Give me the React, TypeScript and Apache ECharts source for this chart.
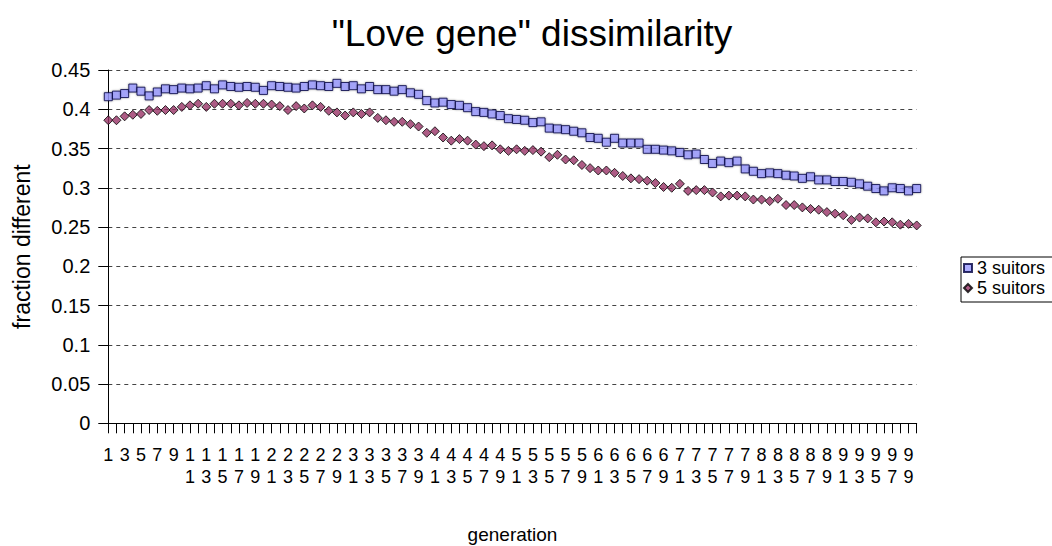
import React, { useEffect, useRef } from "react";
import * as echarts from "echarts";

const categories: string[] = Array.from({ length: 100 }, (_, i) => String(i + 1));

const suitors3: number[] = [
  0.416, 0.418, 0.420, 0.427, 0.423, 0.417, 0.422, 0.426, 0.425, 0.427,
  0.426, 0.427, 0.430, 0.426, 0.431, 0.429, 0.428, 0.429, 0.428, 0.424,
  0.430, 0.429, 0.428, 0.427, 0.429, 0.431, 0.430, 0.429, 0.433, 0.429,
  0.430, 0.426, 0.429, 0.425, 0.425, 0.423, 0.425, 0.421, 0.419, 0.411,
  0.408, 0.409, 0.406, 0.405, 0.402, 0.397, 0.396, 0.394, 0.392, 0.388,
  0.387, 0.386, 0.383, 0.384, 0.376, 0.375, 0.374, 0.372, 0.370, 0.364,
  0.363, 0.358, 0.363, 0.357, 0.357, 0.357, 0.349, 0.349, 0.348, 0.347,
  0.345, 0.342, 0.343, 0.336, 0.331, 0.334, 0.332, 0.334, 0.324, 0.321,
  0.318, 0.319, 0.318, 0.316, 0.315, 0.312, 0.314, 0.310, 0.310, 0.308,
  0.308, 0.307, 0.305, 0.302, 0.299, 0.296, 0.300, 0.299, 0.296, 0.299,
];

const suitors5: number[] = [
  0.386, 0.386, 0.391, 0.393, 0.394, 0.399, 0.398, 0.399, 0.399, 0.403,
  0.405, 0.407, 0.403, 0.407, 0.407, 0.407, 0.405, 0.408, 0.407, 0.407,
  0.406, 0.404, 0.399, 0.404, 0.401, 0.405, 0.403, 0.398, 0.396, 0.392,
  0.396, 0.394, 0.396, 0.389, 0.386, 0.384, 0.384, 0.381, 0.378, 0.370,
  0.372, 0.364, 0.360, 0.362, 0.360, 0.355, 0.353, 0.354, 0.349, 0.347,
  0.349, 0.347, 0.348, 0.346, 0.339, 0.342, 0.336, 0.335, 0.329, 0.325,
  0.322, 0.322, 0.319, 0.315, 0.312, 0.311, 0.309, 0.306, 0.301, 0.300,
  0.305, 0.296, 0.297, 0.297, 0.294, 0.289, 0.290, 0.290, 0.289, 0.285,
  0.285, 0.283, 0.286, 0.278, 0.278, 0.275, 0.273, 0.272, 0.269, 0.267,
  0.265, 0.259, 0.262, 0.261, 0.256, 0.257, 0.256, 0.253, 0.254, 0.252,
];

const seriesNames: string[] = ["3 suitors", "5 suitors"];

const FONT = "'Liberation Sans', Arial, sans-serif";

export default function App() {
  const ref = useRef<HTMLDivElement>(null);

  useEffect(() => {
    if (!ref.current) return;
    const chart = echarts.init(ref.current, undefined, { renderer: "svg" });
    chart.setOption({
      animation: false,
      backgroundColor: "#ffffff",
      textStyle: { fontFamily: FONT },
      title: {
        text: '"Love gene" dissimilarity',
        left: 527,
        textAlign: "center",
        top: 10,
        textStyle: { fontFamily: FONT, fontSize: 37, fontWeight: "normal", color: "#000" },
      },
      legend: {
        orient: "vertical",
        left: 961,
        top: 257,
        padding: [2, 9, 5, 2],
        itemGap: 2,
        itemWidth: 8,
        itemHeight: 8,
        borderColor: "#000",
        borderWidth: 1,
        borderRadius: 0,
        textStyle: { fontFamily: FONT, fontSize: 18, color: "#000" },
        data: [
          { name: seriesNames[0], icon: "rect" },
          { name: seriesNames[1], icon: "diamond" },
        ],
      },
      grid: {
        left: 108.3,
        top: 70,
        width: 808.4,
        height: 353.3,
        outerBoundsMode: "none",
        containLabel: false,
      },
      xAxis: {
        type: "category",
        data: categories,
        boundaryGap: false,
        name: "generation",
        nameLocation: "middle",
        nameGap: 102,
        nameTextStyle: { fontFamily: FONT, fontSize: 19, color: "#000" },
        axisLine: { lineStyle: { color: "#000", width: 1 } },
        axisTick: { interval: 0, length: 10, lineStyle: { color: "#000" } },
        axisLabel: {
          interval: 1,
          margin: 21,
          fontSize: 18,
          lineHeight: 22,
          color: "#000",
          fontFamily: FONT,
          formatter: (v: string) => v.split("").join("\n"),
        },
        splitLine: { show: false },
      },
      yAxis: {
        type: "value",
        min: 0,
        max: 0.45,
        interval: 0.05,
        name: "fraction different",
        nameLocation: "middle",
        nameGap: 75,
        nameTextStyle: { fontFamily: FONT, fontSize: 23, color: "#000" },
        axisLine: { show: true, lineStyle: { color: "#000", width: 1 } },
        axisTick: { show: true, length: 10, lineStyle: { color: "#000" } },
        axisLabel: { margin: 18, fontSize: 20, color: "#000", fontFamily: FONT },
        splitLine: { show: true, lineStyle: { color: "#444", type: [4, 4], width: 1 } },
      },
      series: [
        {
          name: seriesNames[0],
          type: "scatter",
          data: suitors3,
          symbol: "rect",
          symbolSize: 8,
          itemStyle: {
            color: "#9999FF",
            borderColor: "#000040",
            borderWidth: 1,
            shadowColor: "rgba(0,0,0,0.4)",
            shadowBlur: 2,
          },
        },
        {
          name: seriesNames[1],
          type: "scatter",
          data: suitors5,
          symbol: "diamond",
          symbolSize: 9,
          itemStyle: {
            color: "#993366",
            borderColor: "#000",
            borderWidth: 1,
          },
        },
      ],
    });
    return () => chart.dispose();
  }, []);

  return (
    <div
      ref={ref}
      style={{ position: "absolute", left: 0, top: 0, width: 1052, height: 546 }}
    />
  );
}
